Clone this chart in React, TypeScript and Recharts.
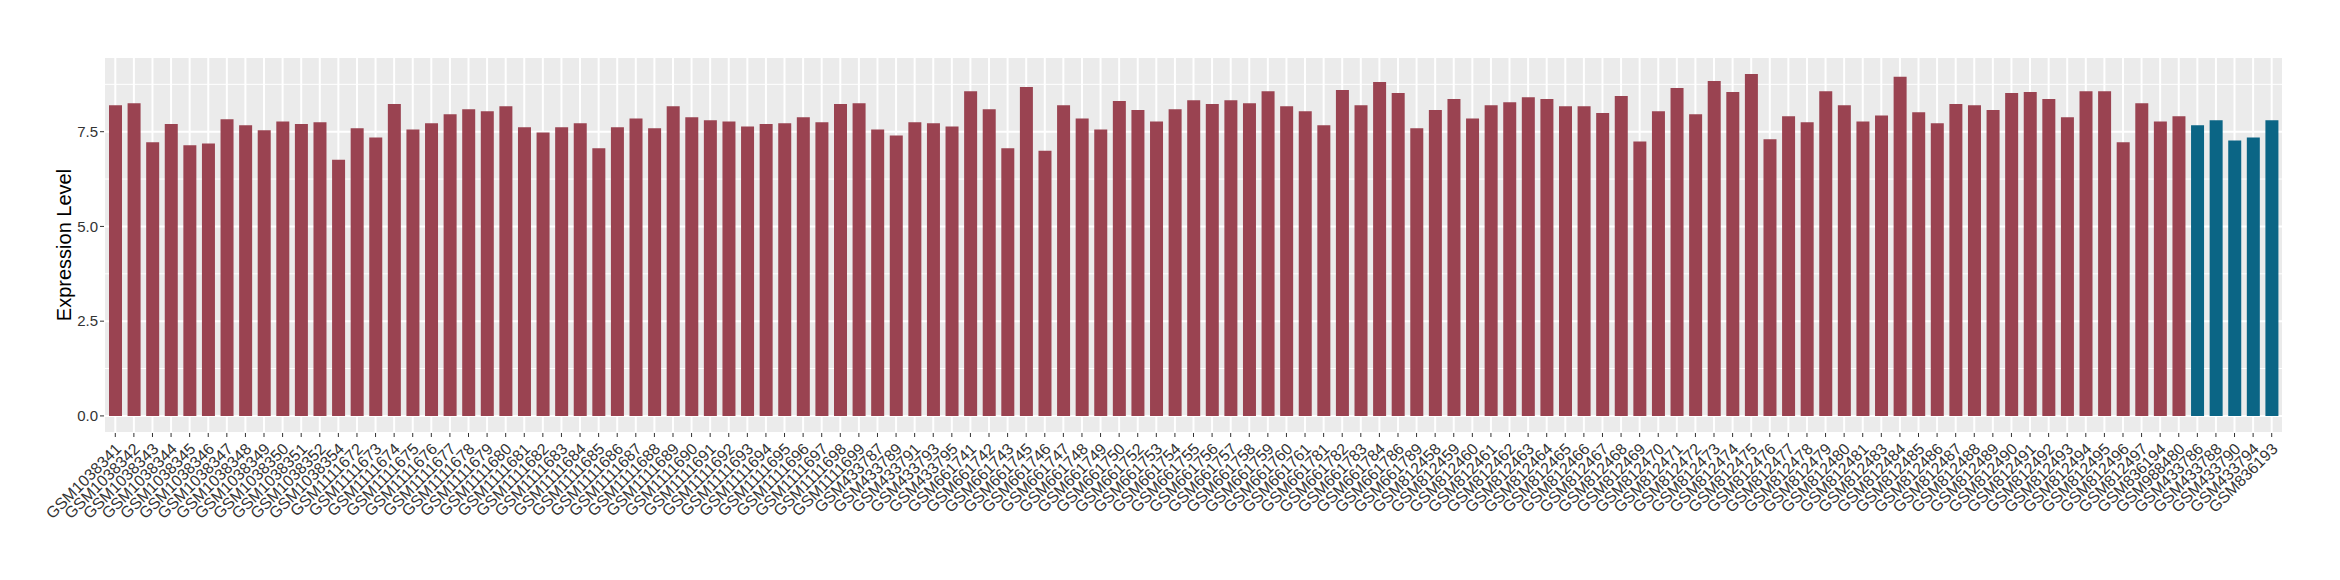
import React from 'react';
import { BarChart, Bar, XAxis, YAxis, CartesianGrid, Cell, Label } from 'recharts';

const samples: string[] = [
  'GSM1038341', 'GSM1038342', 'GSM1038343', 'GSM1038344', 'GSM1038345', 'GSM1038346', 'GSM1038347',
  'GSM1038348', 'GSM1038349', 'GSM1038350', 'GSM1038351', 'GSM1038352', 'GSM1038354',
  'GSM1111672', 'GSM1111673', 'GSM1111674', 'GSM1111675', 'GSM1111676', 'GSM1111677', 'GSM1111678',
  'GSM1111679', 'GSM1111680', 'GSM1111681', 'GSM1111682', 'GSM1111683', 'GSM1111684', 'GSM1111685',
  'GSM1111686', 'GSM1111687', 'GSM1111688', 'GSM1111689', 'GSM1111690', 'GSM1111691', 'GSM1111692',
  'GSM1111693', 'GSM1111694', 'GSM1111695', 'GSM1111696', 'GSM1111697', 'GSM1111698', 'GSM1111699',
  'GSM433787', 'GSM433789', 'GSM433791', 'GSM433793', 'GSM433795',
  'GSM661741', 'GSM661742', 'GSM661743', 'GSM661745', 'GSM661746', 'GSM661747', 'GSM661748',
  'GSM661749', 'GSM661750', 'GSM661752', 'GSM661753', 'GSM661754', 'GSM661755', 'GSM661756',
  'GSM661757', 'GSM661758', 'GSM661759', 'GSM661760', 'GSM661761', 'GSM661781', 'GSM661782',
  'GSM661783', 'GSM661784', 'GSM661786', 'GSM661789',
  'GSM812458', 'GSM812459', 'GSM812460', 'GSM812461', 'GSM812462', 'GSM812463', 'GSM812464',
  'GSM812465', 'GSM812466', 'GSM812467', 'GSM812468', 'GSM812469', 'GSM812470', 'GSM812471',
  'GSM812472', 'GSM812473', 'GSM812474', 'GSM812475', 'GSM812476', 'GSM812477', 'GSM812478',
  'GSM812479', 'GSM812480', 'GSM812481', 'GSM812483', 'GSM812484', 'GSM812485', 'GSM812486',
  'GSM812487', 'GSM812488', 'GSM812489', 'GSM812490', 'GSM812491', 'GSM812492', 'GSM812493',
  'GSM812494', 'GSM812495', 'GSM812496', 'GSM812497',
  'GSM836194', 'GSM988480',
  'GSM433786', 'GSM433788', 'GSM433790', 'GSM433794', 'GSM836193',
];

const expression: number[] = [
  8.20, 8.25, 7.22, 7.70, 7.14, 7.19, 7.83, 7.67, 7.54, 7.77, 7.70, 7.75, 6.76,
  7.59, 7.35, 8.23, 7.56, 7.72, 7.96, 8.09, 8.04, 8.17, 7.62, 7.48, 7.62, 7.72, 7.06,
  7.62, 7.85, 7.59, 8.17, 7.88, 7.80, 7.77, 7.64, 7.70, 7.72, 7.88, 7.75, 8.23, 8.25,
  7.56, 7.40, 7.75, 7.72, 7.64,
  8.57, 8.09, 7.06, 8.68, 7.00, 8.20, 7.85, 7.56, 8.31, 8.07, 7.77, 8.09, 8.33, 8.23,
  8.33, 8.25, 8.57, 8.17, 8.04, 7.67, 8.60, 8.20, 8.81, 8.52, 7.59,
  8.07, 8.36, 7.85, 8.20, 8.28, 8.41, 8.36, 8.17, 8.17, 7.99, 8.44, 7.24, 8.04, 8.65,
  7.96, 8.84, 8.55, 9.02, 7.30, 7.91, 7.75, 8.57, 8.20, 7.77, 7.93, 8.95, 8.01, 7.72,
  8.23, 8.20, 8.07, 8.52, 8.55, 8.36, 7.88, 8.57, 8.57, 7.22, 8.25,
  7.77, 7.91,
  7.67, 7.80, 7.27, 7.35, 7.80,
];

const controlSamples: string[] = ['GSM433786', 'GSM433788', 'GSM433790', 'GSM433794', 'GSM836193'];

const yTicks: number[] = [0, 2.5, 5, 7.5];
const yMinorTicks: number[] = [1.25, 3.75, 6.25, 8.75];
const yDomain: [number, number] = [-0.451, 9.471];

const data = samples.map((s, i) => ({ sample: s, value: expression[i] }));

const FONT = '"Liberation Sans", Arial, Helvetica, sans-serif';
const RED = '#9A4351';
const BLUE = '#0B6585';

const XTick = (props: any) => {
  const { x, y, payload } = props;
  const ax = x + 7;
  const ay = y + 11;
  return (
    <text
      x={ax}
      y={ay}
      transform={`rotate(-45, ${ax}, ${ay})`}
      textAnchor="end"
      fontSize={16}
      fontFamily={FONT}
      fill="#333333"
    >
      {payload.value}
    </text>
  );
};

const YTitle = (props: any) => {
  const { viewBox } = props;
  const cx = viewBox.x + viewBox.width / 2;
  const cy = viewBox.y + viewBox.height / 2;
  return (
    <text
      x={cx}
      y={cy}
      transform={`rotate(-90, ${cx}, ${cy})`}
      textAnchor="middle"
      dominantBaseline="central"
      fontSize={20}
      fontFamily={FONT}
      fill="#000000"
    >
      Expression Level
    </text>
  );
};

export default function App() {
  return (
    <div style={{ position: 'absolute', left: 0, top: 0, background: '#fff' }}>
      <BarChart
        width={2340}
        height={580}
        data={data}
        margin={{ top: 57, right: 57, bottom: 7, left: 24 }}
        barSize={13}
      >
        <CartesianGrid fill="#EBEBEB" stroke="#FFFFFF" strokeWidth={2} />
        <CartesianGrid vertical={false} horizontalValues={yMinorTicks} stroke="#FFFFFF" strokeWidth={1} />
        <XAxis
          dataKey="sample"
          type="category"
          interval={0}
          height={140}
          padding={{ left: 2, right: 2 }}
          axisLine={false}
          tickSize={4}
          tickLine={{ stroke: '#333333', strokeWidth: 1 }}
          tick={<XTick />}
        />
        <YAxis
          type="number"
          domain={yDomain}
          allowDataOverflow
          ticks={yTicks}
          width={80}
          axisLine={false}
          tickSize={4}
          tickMargin={2}
          tickLine={{ stroke: '#333333', strokeWidth: 1 }}
          tickFormatter={(v: number) => v.toFixed(1)}
          tick={{ fontSize: 15, fontFamily: FONT, fill: '#333333' }}
        >
          <Label content={<YTitle />} position="center" />
        </YAxis>
        <Bar dataKey="value" isAnimationActive={false}>
          {data.map((d) => (
            <Cell key={d.sample} fill={controlSamples.includes(d.sample) ? BLUE : RED} />
          ))}
        </Bar>
      </BarChart>
    </div>
  );
}
